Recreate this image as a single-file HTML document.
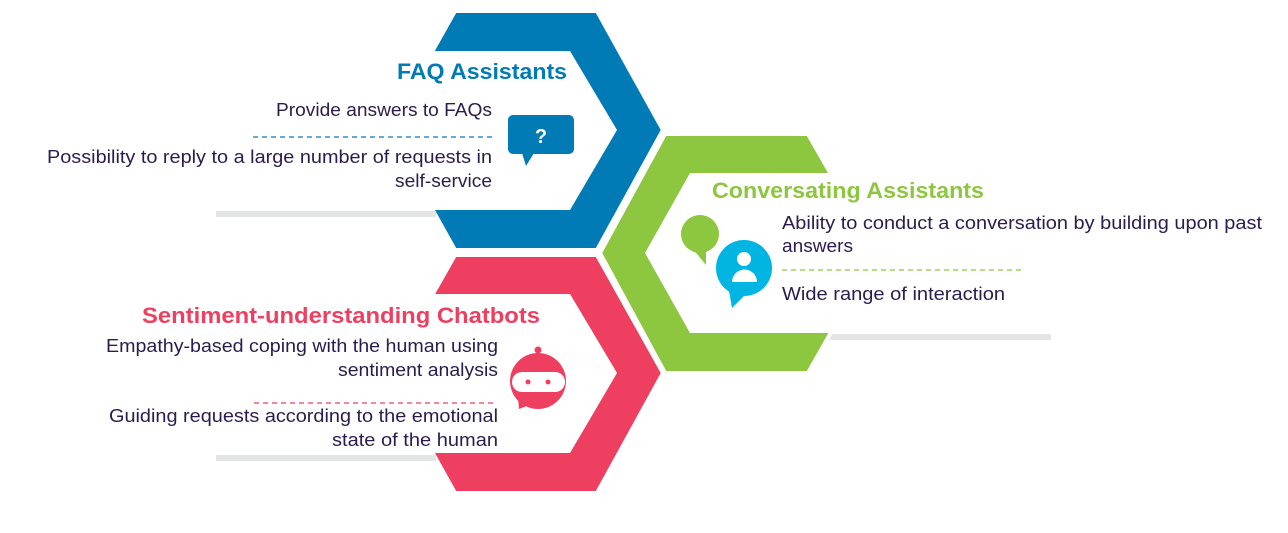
<!DOCTYPE html>
<html><head><meta charset="utf-8"><style>
html,body{margin:0;padding:0;background:#fff;}
svg{display:block}
text{font-family:"Liberation Sans",sans-serif;}
.b{font-size:18px;fill:#2b1c4e;}
.t{font-size:22px;font-weight:bold;}
</style></head><body>
<svg width="1288" height="533" viewBox="0 0 1288 533" xmlns="http://www.w3.org/2000/svg">
<!-- gray bars -->
<rect x="216" y="211" width="230" height="6" fill="#e4e5e7"/>
<rect x="216" y="455" width="230" height="6" fill="#e4e5e7"/>
<rect x="800" y="334" width="251" height="6" fill="#e4e5e7"/>
<!-- green hexagon -->
<path d="M665,134 L808,134 L876,253 L808,373 L665,373 L600,253 Z" fill="#8dc63f" stroke="#fff" stroke-width="4" stroke-linejoin="round"/>
<path d="M690,173 L1050,173 L1050,333 L690,333 L645,253 Z" fill="#fff"/>
<!-- blue hexagon -->
<path d="M455,11 L597,11 L663,130 L597,250 L455,250 L388,130 Z" fill="#007bb6" stroke="#fff" stroke-width="4" stroke-linejoin="round"/>
<path d="M200,51 L570,51 L617,130 L570,210 L200,210 Z" fill="#fff"/>
<!-- red hexagon -->
<path d="M455,255 L597,255 L663,373 L597,493 L455,493 L388,373 Z" fill="#ef3f60" stroke="#fff" stroke-width="4" stroke-linejoin="round"/>
<path d="M200,294 L570,294 L617,373 L570,453 L200,453 Z" fill="#fff"/>
<rect x="216" y="211" width="220" height="6" fill="#e4e5e7"/>
<rect x="216" y="455" width="220" height="6" fill="#e4e5e7"/>

<!-- FAQ -->
<text x="397" y="79" class="t" fill="#007bb6" textLength="170" lengthAdjust="spacingAndGlyphs">FAQ Assistants</text>
<text x="276" y="116" class="b" textLength="216" lengthAdjust="spacingAndGlyphs">Provide answers to FAQs</text>
<line x1="253" y1="137" x2="493" y2="137" stroke="#007bb6" stroke-width="1.2" stroke-dasharray="5,4"/>
<text x="47" y="163" class="b" textLength="445" lengthAdjust="spacingAndGlyphs">Possibility to reply to a large number of requests in</text>
<text x="395" y="187" class="b" textLength="97" lengthAdjust="spacingAndGlyphs">self-service</text>
<rect x="508" y="115" width="66" height="39" rx="5" fill="#007bb6"/>
<path d="M522,153 L534,153 L526,166 Z" fill="#007bb6"/>
<text x="541" y="143" text-anchor="middle" font-size="20" font-weight="bold" fill="#fff">?</text>

<!-- Conversating -->
<text x="712" y="198" class="t" fill="#8dc63f" textLength="272" lengthAdjust="spacingAndGlyphs">Conversating Assistants</text>
<text x="782" y="229" class="b" textLength="480" lengthAdjust="spacingAndGlyphs">Ability to conduct a conversation by building upon past</text>
<text x="782" y="252" class="b" textLength="71" lengthAdjust="spacingAndGlyphs">answers</text>
<line x1="782" y1="270" x2="1024" y2="270" stroke="#8dc63f" stroke-width="1.2" stroke-dasharray="5,4"/>
<text x="782" y="300" class="b" textLength="223" lengthAdjust="spacingAndGlyphs">Wide range of interaction</text>
<circle cx="700" cy="234" r="19" fill="#8dc63f"/>
<path d="M692,248 L706,250 L706,265 Z" fill="#8dc63f"/>
<circle cx="744" cy="268" r="28" fill="#00b5e2"/>
<path d="M728,285 L748,292 L732,308 Z" fill="#00b5e2"/>
<circle cx="744" cy="259" r="7" fill="#fff"/>
<path d="M732,282 A12,12 0 0 1 757,282 Z" fill="#fff"/>

<!-- Sentiment -->
<text x="142" y="323" class="t" fill="#ef3f60" textLength="398" lengthAdjust="spacingAndGlyphs">Sentiment-understanding Chatbots</text>
<text x="106" y="352" class="b" textLength="392" lengthAdjust="spacingAndGlyphs">Empathy-based coping with the human using</text>
<text x="338" y="376" class="b" textLength="160" lengthAdjust="spacingAndGlyphs">sentiment analysis</text>
<line x1="254" y1="403" x2="496" y2="403" stroke="#ef3f60" stroke-width="1.2" stroke-dasharray="5,4"/>
<text x="109" y="422" class="b" textLength="389" lengthAdjust="spacingAndGlyphs">Guiding requests according to the emotional</text>
<text x="332" y="446" class="b" textLength="166" lengthAdjust="spacingAndGlyphs">state of the human</text>
<circle cx="538" cy="381" r="28" fill="#ef3f60"/>
<path d="M518,398 L532,404 L519,409 Z" fill="#ef3f60"/>
<line x1="538" y1="353" x2="538" y2="360" stroke="#ef3f60" stroke-width="2.5"/>
<circle cx="538" cy="350" r="3.5" fill="#ef3f60"/>
<rect x="512" y="372" width="53" height="20" rx="10" fill="#fff"/>
<circle cx="528" cy="382" r="2.5" fill="#ef3f60"/>
<circle cx="548" cy="382" r="2.5" fill="#ef3f60"/>
</svg>
</body></html>
